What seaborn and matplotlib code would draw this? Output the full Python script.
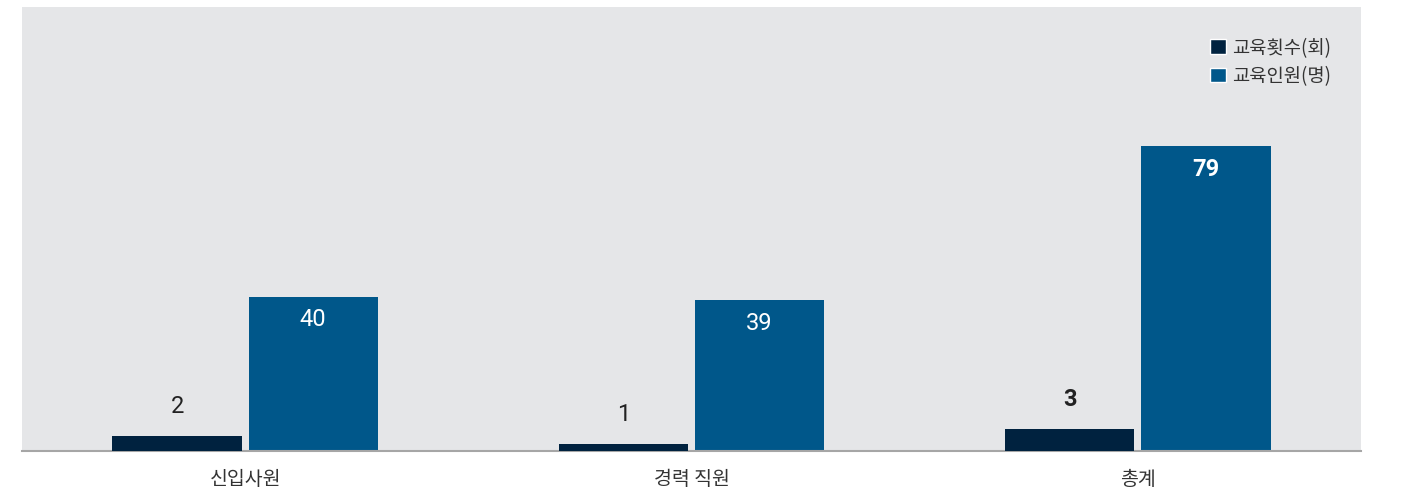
import pandas as pd
import matplotlib.pyplot as plt
import seaborn as sns
from matplotlib.patches import Patch

# chart data
categories = ['신입사원', '경력 직원', '총계']
series_names = ['교육횟수(회)', '교육인원(명)']
sessions = [2, 1, 3]
people = [40, 39, 79]

NAVY = '#00223f'
BLUE = '#00578a'
BG = '#e5e6e8'

sns.set_theme(style='white')
plt.rcParams['font.family'] = ['Noto Sans CJK KR', 'DejaVu Sans']

df = pd.DataFrame({
    'category': categories * 2,
    'series': [series_names[0]] * 3 + [series_names[1]] * 3,
    'value': sessions + people,
})

fig = plt.figure(figsize=(14.07, 5.02), dpi=100)
ax = fig.add_axes([22 / 1407, 50 / 502, 1339 / 1407, 444 / 502])
ax.set_facecolor(BG)

palette = {series_names[0]: NAVY, series_names[1]: BLUE}

# people on the main axis
sns.barplot(data=df[df['series'] == series_names[1]], x='category', y='value',
            hue='series', hue_order=series_names, palette=palette,
            order=categories, width=0.61, gap=0.05, dodge=True,
            legend=False, ax=ax, saturation=1, linewidth=0)
ax.set_ylim(0, 115)

# sessions on a twin axis (own scale)
ax2 = ax.twinx()
ax2.patch.set_visible(False)
sns.barplot(data=df[df['series'] == series_names[0]], x='category', y='value',
            hue='series', hue_order=series_names, palette=palette,
            order=categories, width=0.61, gap=0.05, dodge=True,
            legend=False, ax=ax2, saturation=1, linewidth=0)
ax2.set_ylim(0, 60)
ax.set_xlim(-0.5, 2.5)

# value labels
for i, bar in enumerate(ax.patches[:3]):
    bold = categories[i] == '총계'
    ax.annotate(f'{people[i]}', xy=(bar.get_x() + bar.get_width() / 2, bar.get_height()),
                xytext=(0, -16), textcoords='offset points', ha='center', va='center',
                color='white', fontsize=17, family=['Roboto', 'DejaVu Sans'],
                fontweight='bold' if bold else 'normal')
for i, bar in enumerate(ax2.patches[:3]):
    bold = categories[i] == '총계'
    ax2.annotate(f'{sessions[i]}', xy=(bar.get_x() + bar.get_width() / 2, bar.get_height()),
                 xytext=(0, 22), textcoords='offset points', ha='center', va='center',
                 color='#222222', fontsize=17, family=['Roboto', 'DejaVu Sans'],
                 fontweight='bold' if bold else 'normal')

for a in (ax, ax2):
    a.set_xlabel('')
    a.set_ylabel('')
    a.set_yticks([])
    for s in ['top', 'left', 'right', 'bottom']:
        a.spines[s].set_visible(False)

ax.spines['bottom'].set_visible(True)
ax.spines['bottom'].set_color('#a6a6a6')
ax.spines['bottom'].set_linewidth(1.5)
ax2.set_zorder(ax.get_zorder() + 1)

ax.tick_params(axis='x', length=0, pad=12, labelsize=14, labelcolor='#333333')
ax2.tick_params(axis='x', length=0)

handles = [Patch(facecolor=NAVY, label=series_names[0]),
           Patch(facecolor=BLUE, label=series_names[1])]
fig.legend(handles=handles, loc='upper right', bbox_to_anchor=(1331 / 1407, 1 - 38 / 502),
           frameon=False, fontsize=13.5, handlelength=0.85, handleheight=0.85,
           handletextpad=0.3, labelspacing=0.4, borderpad=0, borderaxespad=0,
           labelcolor='#333333')

fig.savefig('out.png', dpi=100)
